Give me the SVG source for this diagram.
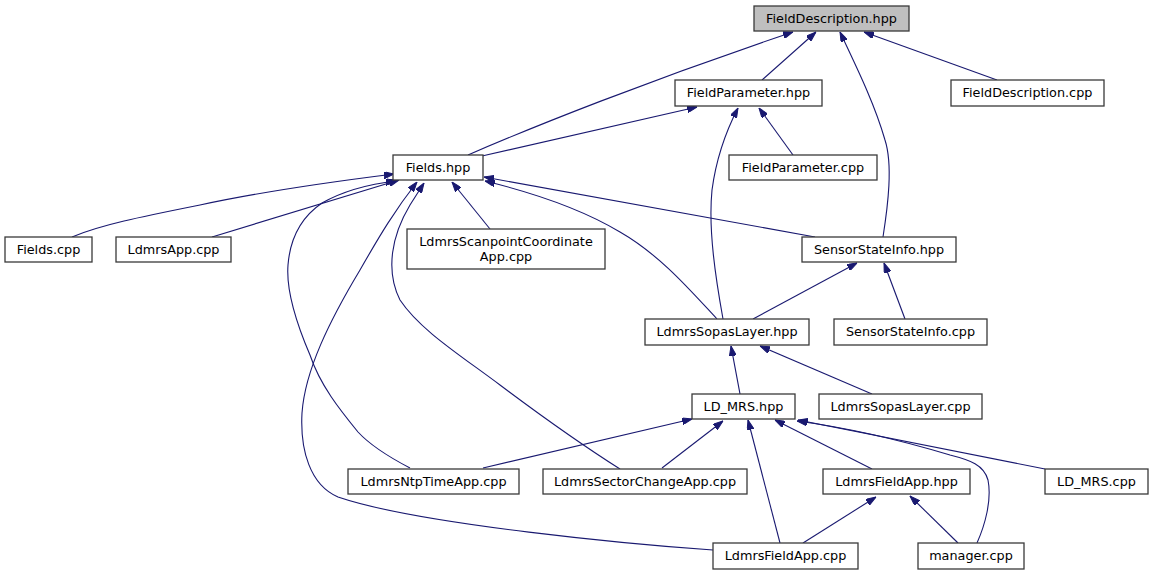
<svg xmlns="http://www.w3.org/2000/svg" width="1153" height="575" viewBox="0 0 1153 575">
<defs>
<style>
.n rect{fill:#ffffff;stroke:#3a3a3a;stroke-width:1.3}
.n.root rect{fill:#bfbfbf}
.n text{font-family:"DejaVu Sans",sans-serif;font-size:12.8px;fill:#000000;text-anchor:middle}
#edges path{fill:none;stroke:#191970;stroke-width:1.1;marker-end:url(#ah)}
</style>
<marker id="ah" viewBox="0 0 10 7" refX="10" refY="3.5" markerWidth="10" markerHeight="7" markerUnits="userSpaceOnUse" orient="auto">
<path d="M0,0 L10,3.5 L0,7 z" fill="#191970" stroke="#191970" stroke-width="1"/>
</marker>
</defs>
<rect width="1153" height="575" fill="#ffffff"/>
<g id="edges">
<path d="M468,155 C530,128 650,80 793,32"/>
<path d="M762,80 L816,32"/>
<path d="M883,237 C888,205 893,165 885,140 C875,105 858,70 840,32"/>
<path d="M997,80 L864,32"/>
<path d="M482,156 L697,107"/>
<path d="M793,155 L759,108"/>
<path d="M723,319 C716,280 708,230 712,190 C716,160 724,135 738,108"/>
<path d="M72,237 C100,225 140,217 200,205 C260,192 330,182 394,174"/>
<path d="M212,237 L399,180"/>
<path d="M490,229 L452,182"/>
<path d="M815,237 L484,177"/>
<path d="M717,319 C690,290 660,255 620,232 C580,208 530,192 485,181"/>
<path d="M410,468 C385,455 370,445 358,432 C340,410 320,385 310,355 C295,320 286,290 288,265 C290,240 300,218 322,203 C345,190 370,184 396,181"/>
<path d="M620,469 C590,450 540,415 500,385 C460,355 420,330 400,300 C385,270 392,235 410,205 L424,183"/>
<path d="M713,550 C640,545 420,525 338,497 C310,485 300,450 302,413 C305,370 330,320 360,270 C380,235 395,210 417,182"/>
<path d="M753,319 L857,263"/>
<path d="M905,319 L884,263"/>
<path d="M740,394 L731,346"/>
<path d="M872,394 L760,346"/>
<path d="M483,468 L692,419"/>
<path d="M662,468 L723,421"/>
<path d="M780,543 L748,420"/>
<path d="M872,469 L775,420"/>
<path d="M977,543 C985,525 992,500 988,480 C984,465 970,460 950,455 C900,440 850,428 797,421"/>
<path d="M1045,469 L798,420"/>
<path d="M803,543 L876,497"/>
<path d="M958,543 L910,496"/>
</g>
<g id="node-fielddescription-hpp" class="n root"><rect x="754" y="6" width="155" height="25"/><text x="831.5" y="22.5">FieldDescription.hpp</text></g>
<g id="node-fieldparameter-hpp" class="n"><rect x="675" y="80" width="147" height="26"/><text x="748.5" y="97">FieldParameter.hpp</text></g>
<g id="node-fielddescription-cpp" class="n"><rect x="951" y="80" width="153" height="26"/><text x="1027.5" y="97">FieldDescription.cpp</text></g>
<g id="node-fieldparameter-cpp" class="n"><rect x="729" y="155" width="148" height="25"/><text x="803" y="171.5">FieldParameter.cpp</text></g>
<g id="node-fields-hpp" class="n"><rect x="393" y="155" width="90" height="25"/><text x="438" y="171.5">Fields.hpp</text></g>
<g id="node-fields-cpp" class="n"><rect x="5" y="237" width="87" height="25"/><text x="48.5" y="253.5">Fields.cpp</text></g>
<g id="node-ldmrsapp-cpp" class="n"><rect x="116" y="237" width="115" height="25"/><text x="173.5" y="253.5">LdmrsApp.cpp</text></g>
<g id="node-ldmrsscanpoint" class="n"><rect x="407" y="229" width="198" height="40"/><text x="506" y="245.5">LdmrsScanpointCoordinate</text><text x="506" y="260.5">App.cpp</text></g>
<g id="node-sensorstateinfo-hpp" class="n"><rect x="802" y="237" width="154" height="25"/><text x="879" y="253.5">SensorStateInfo.hpp</text></g>
<g id="node-ldmrssopaslayer-hpp" class="n"><rect x="645" y="319" width="164" height="26"/><text x="727" y="336">LdmrsSopasLayer.hpp</text></g>
<g id="node-sensorstateinfo-cpp" class="n"><rect x="834" y="319" width="153" height="26"/><text x="910.5" y="336">SensorStateInfo.cpp</text></g>
<g id="node-ld-mrs-hpp" class="n"><rect x="692" y="394" width="103" height="25"/><text x="743.5" y="410.5">LD_MRS.hpp</text></g>
<g id="node-ldmrssopaslayer-cpp" class="n"><rect x="819" y="394" width="163" height="25"/><text x="900.5" y="410.5">LdmrsSopasLayer.cpp</text></g>
<g id="node-ldmrsntptimeapp-cpp" class="n"><rect x="348" y="469" width="171" height="25"/><text x="433.5" y="485.5">LdmrsNtpTimeApp.cpp</text></g>
<g id="node-ldmrssectorchangeapp-cpp" class="n"><rect x="543" y="469" width="204" height="25"/><text x="645" y="485.5">LdmrsSectorChangeApp.cpp</text></g>
<g id="node-ldmrsfieldapp-hpp" class="n"><rect x="823" y="469" width="147" height="25"/><text x="896.5" y="485.5">LdmrsFieldApp.hpp</text></g>
<g id="node-ld-mrs-cpp" class="n"><rect x="1045" y="469" width="103" height="25"/><text x="1096.5" y="485.5">LD_MRS.cpp</text></g>
<g id="node-ldmrsfieldapp-cpp" class="n"><rect x="713" y="543" width="145" height="26"/><text x="785.5" y="560">LdmrsFieldApp.cpp</text></g>
<g id="node-manager-cpp" class="n"><rect x="918" y="543" width="106" height="26"/><text x="971" y="560">manager.cpp</text></g>
</svg>
